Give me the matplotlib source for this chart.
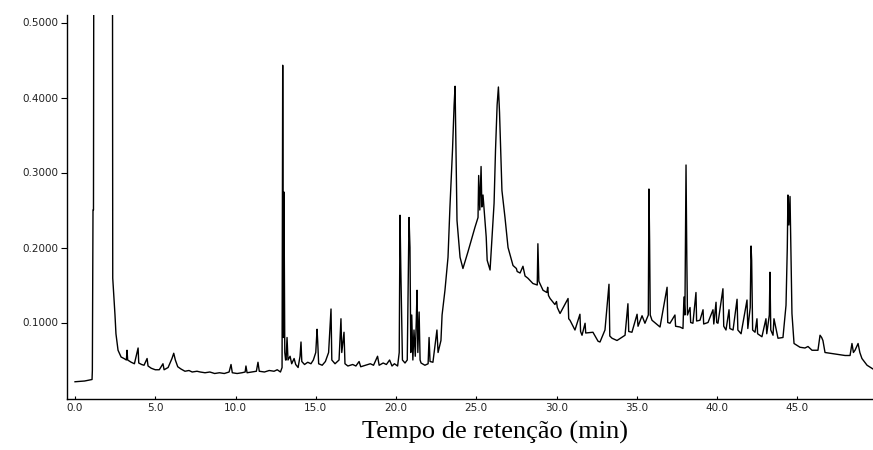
import matplotlib
matplotlib.use("Agg")
import matplotlib.pyplot as plt
from matplotlib.ticker import FormatStrFormatter

# retention time (min) and detector response
time = [0.00, 0.60, 1.06, 1.08, 1.12, 1.15, 1.22, 2.30, 2.35, 2.49, 2.55, 2.68,
        2.87, 3.05, 3.20, 3.24, 3.28, 3.50, 3.70, 3.93, 3.97, 4.15, 4.30, 4.49,
        4.55, 4.75, 5.00, 5.25, 5.48, 5.55, 5.80, 6.04, 6.15, 6.25, 6.40, 6.60,
        6.85, 7.10, 7.30, 7.60, 7.80, 8.10, 8.40, 8.70, 9.00, 9.30, 9.60, 9.72,
        9.80, 10.10, 10.40, 10.60, 10.65, 10.72, 11.00, 11.30, 11.40, 11.48, 11.80, 12.10,
        12.40, 12.60, 12.80, 12.90, 12.94, 12.98, 13.02, 13.07, 13.12, 13.15, 13.21, 13.27,
        13.40, 13.50, 13.65, 13.75, 13.90, 14.02, 14.08, 14.13, 14.30, 14.50, 14.70, 14.85,
        15.00, 15.08, 15.12, 15.18, 15.40, 15.60, 15.80, 15.95, 16.00, 16.20, 16.45, 16.57,
        16.62, 16.76, 16.82, 17.00, 17.30, 17.50, 17.70, 17.80, 18.10, 18.40, 18.60, 18.85,
        18.95, 19.20, 19.40, 19.60, 19.75, 19.90, 20.10, 20.20, 20.25, 20.30, 20.40, 20.56,
        20.70, 20.81, 20.87, 20.92, 20.98, 21.05, 21.12, 21.20, 21.26, 21.31, 21.36, 21.44,
        21.50, 21.56, 21.80, 22.00, 22.06, 22.12, 22.30, 22.55, 22.62, 22.80, 22.87, 23.05,
        23.24, 23.36, 23.52, 23.62, 23.68, 23.74, 23.80, 23.99, 24.17, 24.48, 24.92, 25.11,
        25.15, 25.22, 25.30, 25.35, 25.42, 25.62, 25.68, 25.86, 26.11, 26.20, 26.30, 26.38,
        26.45, 26.60, 26.79, 26.98, 27.29, 27.50, 27.55, 27.73, 27.91, 28.04, 28.22, 28.53,
        28.80, 28.84, 28.90, 29.16, 29.40, 29.45, 29.50, 29.60, 29.90, 30.00, 30.05, 30.22,
        30.72, 30.76, 30.84, 31.15, 31.46, 31.50, 31.59, 31.78,
        31.82, 32.27, 32.59, 32.71, 33.02, 33.27, 33.32, 33.46, 33.77, 34.27, 34.45, 34.50,
        34.70, 35.02, 35.08, 35.33, 35.51, 35.72, 35.76, 35.80, 35.84, 35.95, 36.45, 36.89,
        36.93, 37.07, 37.38, 37.42, 37.69, 37.88, 37.94, 38.00, 38.07, 38.12, 38.16, 38.32,
        38.36, 38.50, 38.69, 38.73, 38.94, 39.13, 39.17, 39.44, 39.75, 39.80, 39.94, 39.98,
        40.06, 40.37, 40.42, 40.56, 40.75, 40.80, 41.00, 41.25, 41.30, 41.50, 41.87, 41.92,
        42.07, 42.12, 42.16, 42.22, 42.37, 42.49, 42.53, 42.80, 43.05, 43.10, 43.26, 43.30,
        43.35, 43.49, 43.55, 43.80, 44.11, 44.30, 44.38, 44.42, 44.48, 44.55, 44.62, 44.67,
        44.80, 45.17, 45.48, 45.67, 45.92, 46.29, 46.42, 46.52, 46.60, 46.73, 47.04, 47.35,
        47.98, 48.29, 48.41, 48.50, 48.60, 48.79, 48.90, 49.03, 49.35, 49.72]

signal = [0.021, 0.022, 0.024, 0.036, 0.250, 0.250, 1.500, 1.500, 0.159, 0.110, 0.085, 0.063,
          0.054, 0.052, 0.050, 0.063, 0.050, 0.047, 0.045, 0.066, 0.046, 0.044, 0.043, 0.052,
          0.042, 0.039, 0.037, 0.037, 0.045, 0.037, 0.040, 0.052, 0.059, 0.050, 0.041, 0.038,
          0.035, 0.036, 0.034, 0.035, 0.034, 0.033, 0.034, 0.032, 0.033, 0.032, 0.034, 0.044,
          0.033, 0.032, 0.033, 0.034, 0.042, 0.033, 0.034, 0.035, 0.047, 0.035, 0.034, 0.036,
          0.035, 0.037, 0.034, 0.040, 0.443, 0.080, 0.274, 0.060, 0.050, 0.050, 0.080, 0.050,
          0.055, 0.045, 0.052, 0.044, 0.040, 0.055, 0.074, 0.048, 0.044, 0.047, 0.045, 0.050,
          0.060, 0.091, 0.075, 0.045, 0.043, 0.048, 0.060, 0.118, 0.050, 0.045, 0.050, 0.105,
          0.060, 0.087, 0.045, 0.042, 0.044, 0.042, 0.048, 0.041, 0.043, 0.045, 0.043, 0.055,
          0.043, 0.046, 0.044, 0.050, 0.042, 0.045, 0.042, 0.060, 0.243, 0.170, 0.050, 0.046,
          0.050, 0.240, 0.200, 0.060, 0.110, 0.050, 0.090, 0.055, 0.100, 0.143, 0.060, 0.114,
          0.050, 0.046, 0.043, 0.045, 0.080, 0.048, 0.047, 0.090, 0.060, 0.076, 0.110, 0.143,
          0.187, 0.254, 0.330, 0.390, 0.415, 0.330, 0.236, 0.187, 0.172, 0.194, 0.227, 0.240,
          0.296, 0.250, 0.308, 0.254, 0.270, 0.214, 0.183, 0.170, 0.259, 0.330, 0.390, 0.414,
          0.380, 0.276, 0.240, 0.200, 0.176, 0.172, 0.168, 0.166, 0.175, 0.162, 0.159, 0.152,
          0.150, 0.205, 0.155, 0.143, 0.140, 0.147, 0.136, 0.132, 0.124, 0.128, 0.120, 0.112,
          0.132, 0.105, 0.103, 0.090, 0.111, 0.088, 0.083, 0.099,
          0.086, 0.087, 0.075, 0.074, 0.090, 0.151, 0.082, 0.079, 0.076, 0.083, 0.125, 0.088,
          0.087, 0.111, 0.095, 0.109, 0.099, 0.110, 0.278, 0.210, 0.110, 0.103, 0.094, 0.147,
          0.100, 0.099, 0.110, 0.095, 0.094, 0.092, 0.134, 0.110, 0.310, 0.183, 0.110, 0.120,
          0.100, 0.099, 0.140, 0.102, 0.103, 0.117, 0.098, 0.100, 0.117, 0.098, 0.127, 0.100,
          0.099, 0.145, 0.095, 0.090, 0.117, 0.092, 0.090, 0.131, 0.090, 0.085, 0.130, 0.092,
          0.120, 0.202, 0.183, 0.090, 0.087, 0.105, 0.085, 0.081, 0.105, 0.085, 0.110, 0.167,
          0.090, 0.083, 0.105, 0.079, 0.080, 0.123, 0.200, 0.270, 0.230, 0.268, 0.180, 0.112,
          0.072, 0.067, 0.066, 0.068, 0.063, 0.063, 0.083, 0.080, 0.076, 0.060, 0.059, 0.058,
          0.056, 0.056, 0.072, 0.060, 0.063, 0.072, 0.060, 0.052, 0.043, 0.038]

x_ticks = [0, 5, 10, 15, 20, 25, 30, 35, 40, 45]
y_ticks = [0.1, 0.2, 0.3, 0.4, 0.5]
x_title = "Tempo de retenção (min)"

fig = plt.figure(figsize=(8.73, 4.5), dpi=100)
ax = fig.add_axes([67 / 873, 51 / 450, 1 - 67 / 873, 384 / 450])

ax.plot(time, signal, color="black", lw=1.0)

ax.set_xlim(-0.5, 49.72)
ax.set_ylim(-0.002, 0.510)
ax.set_xticks(x_ticks)
ax.set_yticks(y_ticks)
ax.xaxis.set_major_formatter(FormatStrFormatter("%.1f"))
ax.yaxis.set_major_formatter(FormatStrFormatter("%.4f"))

for s in ["top", "right"]:
    ax.spines[s].set_visible(False)
ax.spines["left"].set_linewidth(1.0)
ax.spines["bottom"].set_linewidth(1.0)

ax.tick_params(axis="x", direction="in", length=2.5, width=0.8, pad=3,
               labelsize=7.5, labelcolor="#222222")
ax.tick_params(axis="y", direction="out", length=4, width=0.8, pad=2,
               labelsize=7.5, labelcolor="#222222")

fig.text(495 / 873, 11 / 450, x_title, ha="center", va="baseline",
         family="Liberation Serif", fontsize=19)

fig.savefig("out.png", dpi=100)
